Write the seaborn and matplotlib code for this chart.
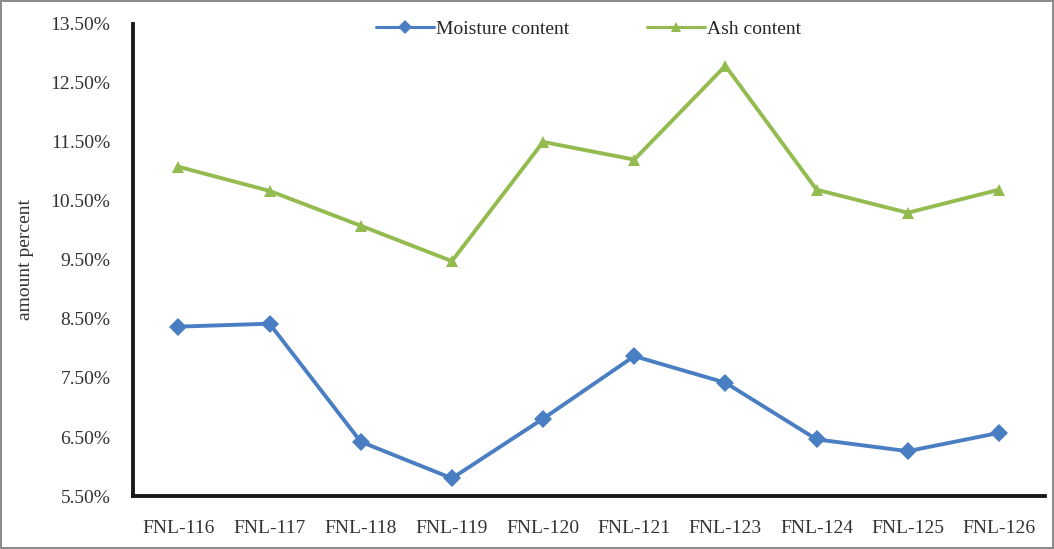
import matplotlib
matplotlib.use("Agg")
import matplotlib.pyplot as plt
import pandas as pd
import seaborn as sns
from matplotlib.ticker import FuncFormatter

sns.set_style("white")
plt.rcParams['font.family'] = ['Liberation Serif', 'DejaVu Serif']

samples = ['FNL-116', 'FNL-117', 'FNL-118', 'FNL-119', 'FNL-120',
           'FNL-121', 'FNL-123', 'FNL-124', 'FNL-125', 'FNL-126']
moisture = [8.37, 8.42, 6.42, 5.80, 6.81, 7.87, 7.42, 6.46, 6.26, 6.57]
ash = [11.08, 10.67, 10.08, 9.48, 11.50, 11.20, 12.79, 10.69, 10.30, 10.69]
series_names = ['Moisture content', 'Ash content']

df = pd.concat([
    pd.DataFrame({'sample': samples, 'value': moisture, 'series': series_names[0]}),
    pd.DataFrame({'sample': samples, 'value': ash, 'series': series_names[1]}),
])

fig = plt.figure(figsize=(10.54, 5.49), dpi=100)
fig.patch.set_edgecolor('#8c8c8c')
fig.patch.set_linewidth(1.5)
ax = fig.add_axes([0.126, 0.0965, 0.865, 0.86])

sns.lineplot(data=df, x='sample', y='value', hue='series', style='series',
             markers={'Moisture content': 'D', 'Ash content': '^'},
             dashes=False, palette={'Moisture content': '#4a7ec2', 'Ash content': '#93bb4f'},
             linewidth=2.8, markersize=9, markeredgewidth=0, sort=False, ax=ax)

ax.set_xlim(-0.5, 9.5)
ax.set_ylim(5.5, 13.5)
ax.set_yticks([5.5 + i for i in range(9)])
ax.yaxis.set_major_formatter(FuncFormatter(lambda v, p: f'{v:.2f}%'))
ax.tick_params(axis='both', labelsize=14, length=0, colors='#333333')
ax.tick_params(axis='y', pad=16)
ax.tick_params(axis='x', pad=17)
ax.set_xlabel('')
ax.set_ylabel('amount percent', fontsize=14, color='#333333', labelpad=12)

for s in ['top', 'right']:
    ax.spines[s].set_visible(False)
for s in ['left', 'bottom']:
    ax.spines[s].set_linewidth(2.8)
    ax.spines[s].set_color('#1a1a1a')

leg = ax.legend(title=None, loc='upper center', bbox_to_anchor=(0.5, 1.045), ncol=2,
                frameon=False, fontsize=14, handlelength=3.0, columnspacing=4.0,
                handletextpad=0.1, markerscale=0.8)
for h in leg.legend_handles:
    h.set_linewidth(2.2)

fig.savefig('out.png', dpi=100)
